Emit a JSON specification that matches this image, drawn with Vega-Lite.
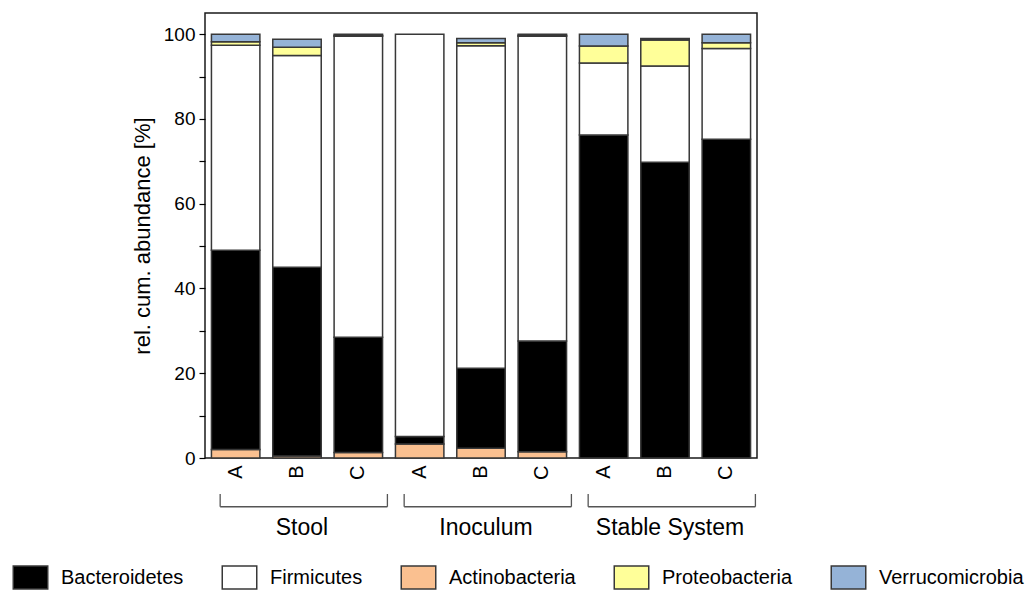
{
  "$schema": "https://vega.github.io/schema/vega-lite/v6.json",
  "autosize": "none",
  "padding": {"left": 205, "top": 13, "right": 271, "bottom": 132},
  "width": 552,
  "height": 445,
  "config": {
    "font": "Liberation Sans",
    "view": {"stroke": "#1a1a1a", "strokeWidth": 1.5},
    "axis": {"labelFont": "Liberation Sans", "titleFont": "Liberation Sans", "labelColor": "#000", "titleColor": "#000", "grid": false},
    "legend": {"labelFont": "Liberation Sans"}
  },
  "datasets": {
    "abund": [
      {"group": "Stool", "bar": "Stool A", "phylum": "Actinobacteria", "value": 2.0},
      {"group": "Stool", "bar": "Stool A", "phylum": "Bacteroidetes", "value": 47.0},
      {"group": "Stool", "bar": "Stool A", "phylum": "Firmicutes", "value": 48.4},
      {"group": "Stool", "bar": "Stool A", "phylum": "Proteobacteria", "value": 0.8},
      {"group": "Stool", "bar": "Stool A", "phylum": "Verrucomicrobia", "value": 1.8},
      {"group": "Stool", "bar": "Stool B", "phylum": "Actinobacteria", "value": 0.5},
      {"group": "Stool", "bar": "Stool B", "phylum": "Bacteroidetes", "value": 44.5},
      {"group": "Stool", "bar": "Stool B", "phylum": "Firmicutes", "value": 50.0},
      {"group": "Stool", "bar": "Stool B", "phylum": "Proteobacteria", "value": 1.9},
      {"group": "Stool", "bar": "Stool B", "phylum": "Verrucomicrobia", "value": 1.9},
      {"group": "Stool", "bar": "Stool C", "phylum": "Actinobacteria", "value": 1.3},
      {"group": "Stool", "bar": "Stool C", "phylum": "Bacteroidetes", "value": 27.2},
      {"group": "Stool", "bar": "Stool C", "phylum": "Firmicutes", "value": 71.0},
      {"group": "Stool", "bar": "Stool C", "phylum": "Proteobacteria", "value": 0.2},
      {"group": "Stool", "bar": "Stool C", "phylum": "Verrucomicrobia", "value": 0.3},
      {"group": "Inoculum", "bar": "Inoculum A", "phylum": "Actinobacteria", "value": 3.3},
      {"group": "Inoculum", "bar": "Inoculum A", "phylum": "Bacteroidetes", "value": 1.8},
      {"group": "Inoculum", "bar": "Inoculum A", "phylum": "Firmicutes", "value": 94.9},
      {"group": "Inoculum", "bar": "Inoculum B", "phylum": "Actinobacteria", "value": 2.3},
      {"group": "Inoculum", "bar": "Inoculum B", "phylum": "Bacteroidetes", "value": 18.9},
      {"group": "Inoculum", "bar": "Inoculum B", "phylum": "Firmicutes", "value": 76.1},
      {"group": "Inoculum", "bar": "Inoculum B", "phylum": "Proteobacteria", "value": 0.7},
      {"group": "Inoculum", "bar": "Inoculum B", "phylum": "Verrucomicrobia", "value": 1.0},
      {"group": "Inoculum", "bar": "Inoculum C", "phylum": "Actinobacteria", "value": 1.5},
      {"group": "Inoculum", "bar": "Inoculum C", "phylum": "Bacteroidetes", "value": 26.1},
      {"group": "Inoculum", "bar": "Inoculum C", "phylum": "Firmicutes", "value": 71.9},
      {"group": "Inoculum", "bar": "Inoculum C", "phylum": "Proteobacteria", "value": 0.2},
      {"group": "Inoculum", "bar": "Inoculum C", "phylum": "Verrucomicrobia", "value": 0.3},
      {"group": "Stable System", "bar": "Stable System A", "phylum": "Bacteroidetes", "value": 76.2},
      {"group": "Stable System", "bar": "Stable System A", "phylum": "Firmicutes", "value": 17.0},
      {"group": "Stable System", "bar": "Stable System A", "phylum": "Proteobacteria", "value": 4.0},
      {"group": "Stable System", "bar": "Stable System A", "phylum": "Verrucomicrobia", "value": 2.8},
      {"group": "Stable System", "bar": "Stable System B", "phylum": "Bacteroidetes", "value": 69.8},
      {"group": "Stable System", "bar": "Stable System B", "phylum": "Firmicutes", "value": 22.7},
      {"group": "Stable System", "bar": "Stable System B", "phylum": "Proteobacteria", "value": 6.1},
      {"group": "Stable System", "bar": "Stable System B", "phylum": "Verrucomicrobia", "value": 0.4},
      {"group": "Stable System", "bar": "Stable System C", "phylum": "Bacteroidetes", "value": 75.2},
      {"group": "Stable System", "bar": "Stable System C", "phylum": "Firmicutes", "value": 21.4},
      {"group": "Stable System", "bar": "Stable System C", "phylum": "Proteobacteria", "value": 1.4},
      {"group": "Stable System", "bar": "Stable System C", "phylum": "Verrucomicrobia", "value": 2.0}
    ],
    "groups": [
      {"group": "Stool", "first": "Stool A", "mid": "Stool B", "last": "Stool C"},
      {"group": "Inoculum", "first": "Inoculum A", "mid": "Inoculum B", "last": "Inoculum C"},
      {"group": "Stable System", "first": "Stable System A", "mid": "Stable System B", "last": "Stable System C"}
    ]
  },
  "layer": [
    {
      "data": {"name": "abund"},
      "transform": [
        {"calculate": "indexof(['Actinobacteria','Bacteroidetes','Firmicutes','Proteobacteria','Verrucomicrobia'], datum.phylum)", "as": "stackOrder"}
      ],
      "mark": {"type": "bar", "stroke": "#383838", "strokeWidth": 1.5},
      "encoding": {
        "x": {
          "field": "bar", "type": "nominal", "sort": null,
          "scale": {
            "domain": ["Stool A", "Stool B", "Stool C", "Inoculum A", "Inoculum B", "Inoculum C", "Stable System A", "Stable System B", "Stable System C"],
            "paddingInner": 0.21, "paddingOuter": 0.105
          },
          "axis": {
            "title": null, "domain": false, "ticks": false, "labelAngle": -90,
            "labelFontSize": 20, "labelPadding": 7,
            "labelExpr": "substring(datum.value, length(datum.value) - 1)"
          }
        },
        "y": {
          "field": "value", "type": "quantitative", "stack": "zero",
          "scale": {"domain": [0, 105], "nice": false},
          "axis": {
            "title": "rel. cum. abundance [%]", "titleFontSize": 22, "titleFontWeight": "normal", "titlePadding": 9,
            "values": [0, 10, 20, 30, 40, 50, 60, 70, 80, 90, 100],
            "labelExpr": "datum.value % 20 == 0 ? datum.value : ''",
            "labelFontSize": 19, "labelPadding": 4, "tickSize": 6, "tickColor": "#000", "tickWidth": 1.2,
            "domain": false, "labelOverlap": false
          }
        },
        "color": {
          "field": "phylum", "type": "nominal",
          "scale": {
            "domain": ["Bacteroidetes", "Firmicutes", "Actinobacteria", "Proteobacteria", "Verrucomicrobia"],
            "range": ["#000000", "#ffffff", "#fac090", "#ffff99", "#95b3d7"]
          },
          "legend": {
            "title": null, "orient": "none", "direction": "horizontal",
            "legendX": -187, "legendY": 552,
            "symbolType": "M-1.5,-1H1.5V1H-1.5Z", "symbolSize": 529,
            "symbolStrokeColor": "#383838", "symbolStrokeWidth": 1.5, "symbolOpacity": 1,
            "labelFontSize": 20, "labelColor": "#000", "labelOffset": 18, "columnPadding": 35,
            "labelLimit": 300
          }
        },
        "order": {"field": "stackOrder", "type": "quantitative", "sort": "ascending"}
      }
    },
    {
      "data": {"name": "groups"},
      "mark": {"type": "rule", "stroke": "#555555", "strokeWidth": 1.3},
      "encoding": {
        "x": {"field": "first", "type": "nominal", "bandPosition": 0.18},
        "x2": {"field": "last", "bandPosition": 1.1},
        "y": {"datum": -11.5}
      }
    },
    {
      "data": {"name": "groups"},
      "mark": {"type": "rule", "stroke": "#555555", "strokeWidth": 1.3},
      "encoding": {
        "x": {"field": "first", "type": "nominal", "bandPosition": 0.18},
        "y": {"datum": -8.5},
        "y2": {"datum": -11.5}
      }
    },
    {
      "data": {"name": "groups"},
      "mark": {"type": "rule", "stroke": "#555555", "strokeWidth": 1.3},
      "encoding": {
        "x": {"field": "last", "type": "nominal", "bandPosition": 1.1},
        "y": {"datum": -8.5},
        "y2": {"datum": -11.5}
      }
    },
    {
      "data": {"name": "groups"},
      "mark": {"type": "text", "fontSize": 23, "baseline": "middle", "align": "center", "color": "#000", "dx": 5},
      "encoding": {
        "x": {"field": "mid", "type": "nominal"},
        "y": {"datum": -16.5},
        "text": {"field": "group"}
      }
    }
  ]
}
